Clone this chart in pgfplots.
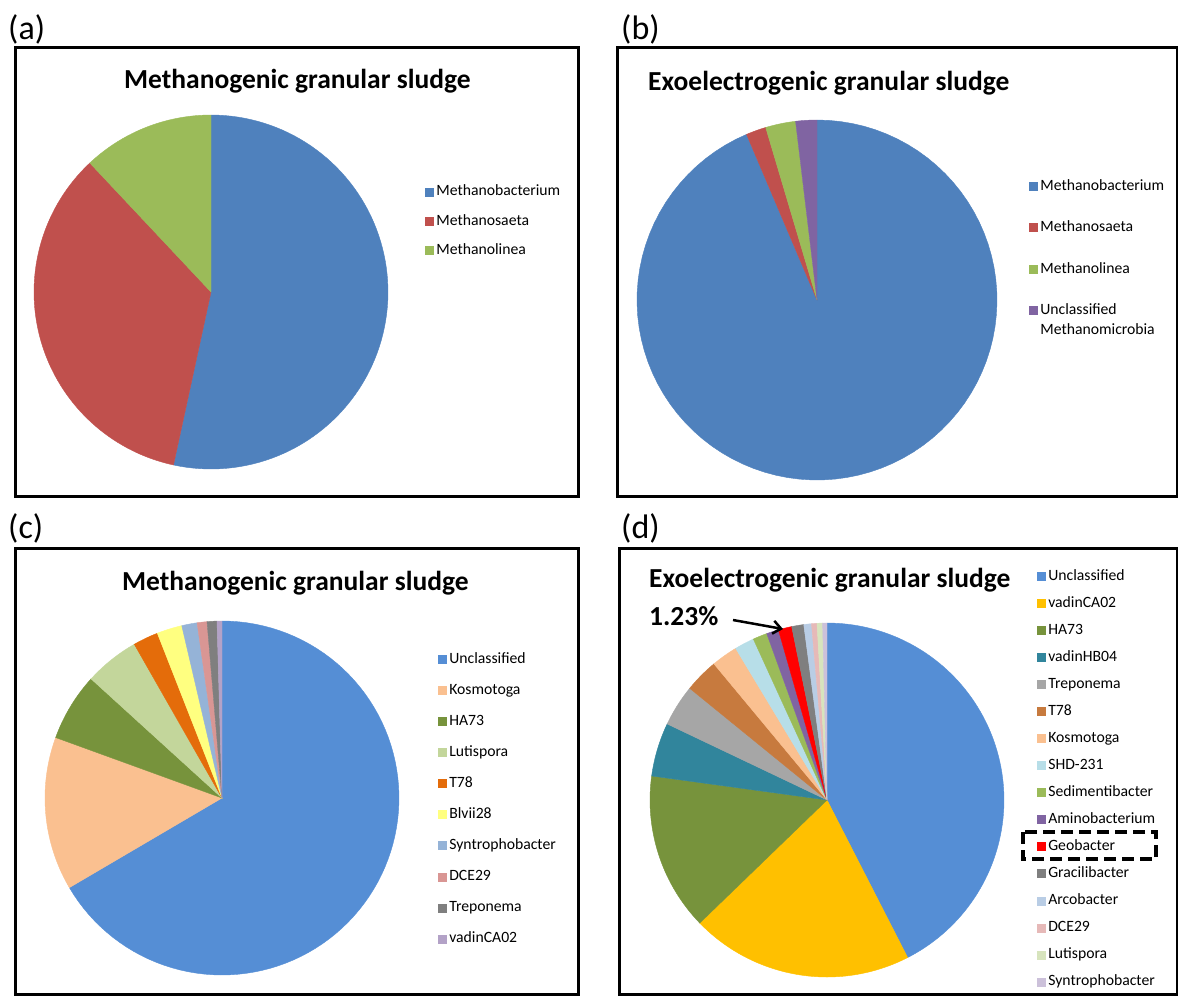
\documentclass[border=0pt]{standalone}
\usepackage{pgfplots}
\pgfplotsset{compat=1.18}
\usepackage{pgfplotstable}
\usepackage{fontspec}
\setmainfont{Carlito}
\usetikzlibrary{arrows.meta}

% Office-style slice colours
\definecolor{oBlue}{HTML}{4F81BD}
\definecolor{oRed}{HTML}{C0504D}
\definecolor{oGreen}{HTML}{9BBB59}
\definecolor{oPurple}{HTML}{8064A2}
\definecolor{sBlue}{HTML}{558ED5}
\definecolor{sPeach}{HTML}{FAC090}
\definecolor{sOlive}{HTML}{77933C}
\definecolor{sLime}{HTML}{C3D69B}
\definecolor{sOrange}{HTML}{E46C0A}
\definecolor{sYellow}{HTML}{FFFF80}
\definecolor{sSky}{HTML}{95B3D7}
\definecolor{sRose}{HTML}{D99694}
\definecolor{sGray}{HTML}{7F7F7F}
\definecolor{sLav}{HTML}{B3A2C7}
\definecolor{dGold}{HTML}{FFC000}
\definecolor{dTeal}{HTML}{31859C}
\definecolor{dSilver}{HTML}{A6A6A6}
\definecolor{dBrown}{HTML}{C77A3E}
\definecolor{dAqua}{HTML}{B7DEE8}
\definecolor{dRed}{HTML}{FF0000}
\definecolor{dIce}{HTML}{B9CDE5}
\definecolor{dPink}{HTML}{E6B9B8}
\definecolor{dMint}{HTML}{D7E4BD}
\definecolor{dLilac}{HTML}{CCC1DA}

% relative abundance (%) of each genus, in clockwise order from 12 o'clock
\pgfplotstableread{
value color
53.4  oBlue
34.6  oRed
12.0  oGreen
}\tblA
\pgfplotstableread{
value color
93.6  oBlue
1.8   oRed
2.7   oGreen
1.9   oPurple
}\tblB
\pgfplotstableread{
value color
66.55 sBlue
14.0  sPeach
6.2   sOlive
5.0   sLime
2.3   sOrange
2.3   sYellow
1.4   sSky
0.9   sRose
0.9   sGray
0.45  sLav
}\tblC
\pgfplotstableread{
value color
42.47 sBlue
20.3  dGold
14.4  sOlive
4.9   dTeal
3.8   dSilver
3.1   dBrown
2.4   sPeach
1.8   dAqua
1.3   oGreen
1.1   oPurple
1.23  dRed
1.1   sGray
0.7   dIce
0.5   dPink
0.5   dMint
0.4   dLilac
}\tblD

% one filled sector per table row, starting at 90 degrees and running clockwise
\newcommand{\pieslices}[1]{%
  \pgfplotstablegetrowsof{#1}%
  \pgfmathtruncatemacro\lastrow{\pgfplotsretval-1}%
  \def\cum{0}%
  \pgfplotsforeachungrouped \i in {0,...,\lastrow}{%
    \pgfplotstablegetelem{\i}{value}\of{#1}\let\val\pgfplotsretval
    \pgfplotstablegetelem{\i}{color}\of{#1}\let\col\pgfplotsretval
    \pgfmathsetmacro\aStart{90-3.6*\cum}%
    \pgfmathsetmacro\cum{\cum+\val}%
    \pgfmathsetmacro\aEnd{90-3.6*\cum}%
    \edef\next{\noexpand\addplot[fill=\col, draw=\col, line width=0.4pt,
      domain=\aEnd:\aStart, samples=90] ({cos(x)},{sin(x)}) -- (0,0) -- cycle;}%
    \next
  }%
}

\pgfplotsset{
  pie/.style={hide axis, scale only axis, width=#1, height=#1,
    xmin=-1, xmax=1, ymin=-1, ymax=1, clip=false, anchor=center,
    legend image code/.code={\fill[##1] (0pt,0pt) rectangle (8pt,8pt);},
    legend cell align=left,
    legend style={draw=none, fill=none, inner sep=0pt, outer sep=0pt,
      anchor=north west, font=\fontsize{15.7}{18}\selectfont,
      cells={anchor=base west},
      nodes={inner sep=0pt, text height=11pt, text depth=3pt},
      /tikz/column 1/.style={column sep=3pt}},
  },
}

\newcommand{\titlefont}{\fontsize{27.5}{33}\selectfont\bfseries}
\newcommand{\tagfont}{\fontsize{34}{40}\selectfont}

\begin{document}
\begin{tikzpicture}[x=1pt, y=1pt]
\useasboundingbox (0,0) rectangle (1178,-996);

% frames and panel tags
\draw[line width=3pt] (15,-47) rectangle (578,-496);
\draw[line width=3pt] (617,-47) rectangle (1177,-496);
\draw[line width=3pt] (15,-548) rectangle (578,-994);
\draw[line width=3pt] (619,-548) rectangle (1177,-994);
\node[anchor=base west, inner sep=0pt, font=\tagfont] at (8,-39) {(a)};
\node[anchor=base west, inner sep=0pt, font=\tagfont] at (621,-39) {(b)};
\node[anchor=base west, inner sep=0pt, font=\tagfont] at (8,-538) {(c)};
\node[anchor=base west, inner sep=0pt, font=\tagfont] at (621,-538) {(d)};

% titles
\node[anchor=base west, inner sep=0pt, font=\titlefont] at (124,-88) {Methanogenic granular sludge};
\node[anchor=base west, inner sep=0pt, font=\titlefont] at (648,-90) {Exoelectrogenic granular sludge};
\node[anchor=base west, inner sep=0pt, font=\titlefont] at (122,-590) {Methanogenic granular sludge};
\node[anchor=base west, inner sep=0pt, font=\titlefont] at (649,-587) {Exoelectrogenic granular sludge};

% (a) archaea, methanogenic sludge
\begin{axis}[pie=354pt, at={(211pt,-292pt)},
  legend style={at={(axis description cs:1.1045,0.8023)}, row sep=15.3pt},
  legend entries={Methanobacterium, Methanosaeta, Methanolinea}]
\pieslices{\tblA}
\end{axis}

% (b) archaea, exoelectrogenic sludge
\begin{axis}[pie=360pt, at={(817pt,-300pt)},
  legend style={at={(axis description cs:1.0889,0.836)}, row sep=27.5pt},
  legend entries={Methanobacterium, Methanosaeta, Methanolinea,
    {\rlap{\smash{\raisebox{-20pt}{Methanomicrobia}}}Unclassified}}]
\pieslices{\tblB}
\end{axis}

% (c) bacteria, methanogenic sludge
\begin{axis}[pie=354pt, at={(222pt,-798pt)},
  legend style={at={(axis description cs:1.110,0.9124)}, row sep=17.1pt},
  legend entries={Unclassified, Kosmotoga, HA73, Lutispora, T78, Blvii28,
    Syntrophobacter, DCE29, Treponema, vadinCA02}]
\pieslices{\tblC}
\end{axis}

% (d) bacteria, exoelectrogenic sludge
\begin{axis}[pie=354pt, at={(827pt,-800pt)},
  legend style={at={(axis description cs:1.093,1.1525)}, row sep=13.06pt},
  legend entries={Unclassified, vadinCA02, HA73, vadinHB04, Treponema, T78,
    Kosmotoga, SHD-231, Sedimentibacter, Aminobacterium, Geobacter,
    Gracilibacter, Arcobacter, DCE29, Lutispora, Syntrophobacter}]
\pieslices{\tblD}
\end{axis}

% Geobacter call-out
\node[anchor=base west, inner sep=0pt, font=\titlefont] at (649,-625) {1.23\%};
\draw[line width=2.5pt, -{Straight Barb[length=8pt, width=13pt]}] (733,-620) -- (783,-629);
\draw[line width=4pt, dash pattern=on 12pt off 6pt] (1023,-832) rectangle (1156,-859);
\end{tikzpicture}
\end{document}
